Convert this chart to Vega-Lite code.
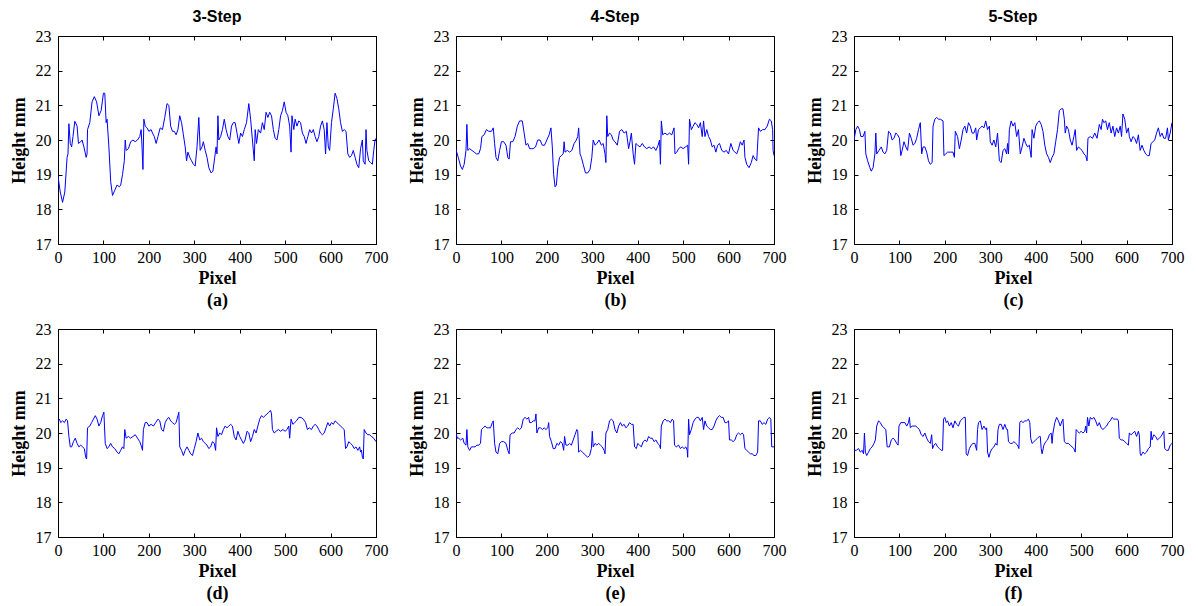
{
"$schema":"https://vega.github.io/schema/vega-lite/v6.json",
"padding":{"left":9,"top":8,"right":5,"bottom":5},
"config":{"view":{"stroke":"black","strokeWidth":1},
"axis":{"domain":false,"grid":false,"tickColor":"black","tickSize":-4,"labelFlush":false,"labelOverlap":false,"labelFont":"Liberation Serif","labelFontSize":16,"labelColor":"black","titleFont":"Liberation Serif","titleFontSize":18,"titleFontWeight":"bold","titleColor":"black"},
"axisX":{"labelPadding":9},
"axisY":{"labelPadding":11,"titlePadding":7},
"title":{"font":"Liberation Sans","fontSize":16,"fontWeight":"bold","color":"black","offset":3},
"concat":{"spacing":18}},
"datasets":{
"a":[{"x":0,"y":18.95},{"x":5,"y":18.5},{"x":10,"y":18.2},{"x":15,"y":18.5},{"x":20,"y":19.5},{"x":22,"y":19.6},{"x":24,"y":20.47},{"x":27,"y":19.9},{"x":30,"y":19.8},{"x":33,"y":20.1},{"x":37,"y":20.54},{"x":42,"y":20.4},{"x":45,"y":19.9},{"x":50,"y":19.95},{"x":53,"y":20.0},{"x":57,"y":19.8},{"x":62,"y":19.5},{"x":64,"y":19.6},{"x":65,"y":20.3},{"x":70,"y":20.5},{"x":75,"y":21.1},{"x":80,"y":21.25},{"x":85,"y":21.1},{"x":90,"y":20.7},{"x":95,"y":20.85},{"x":100,"y":21.35},{"x":103,"y":21.35},{"x":106,"y":20.5},{"x":108,"y":20.6},{"x":112,"y":19.8},{"x":116,"y":18.8},{"x":120,"y":18.4},{"x":125,"y":18.55},{"x":130,"y":18.7},{"x":135,"y":18.65},{"x":138,"y":18.7},{"x":142,"y":19.0},{"x":146,"y":19.4},{"x":148,"y":20.0},{"x":150,"y":19.7},{"x":155,"y":19.75},{"x":160,"y":19.95},{"x":165,"y":20.0},{"x":170,"y":19.95},{"x":175,"y":20.0},{"x":180,"y":20.1},{"x":183,"y":20.3},{"x":185,"y":19.8},{"x":187,"y":19.15},{"x":189,"y":20.6},{"x":192,"y":20.4},{"x":196,"y":20.35},{"x":200,"y":20.25},{"x":205,"y":20.3},{"x":208,"y":20.2},{"x":212,"y":20.1},{"x":216,"y":19.9},{"x":220,"y":20.1},{"x":225,"y":20.35},{"x":230,"y":20.3},{"x":235,"y":20.65},{"x":240,"y":21.05},{"x":244,"y":21.0},{"x":248,"y":20.4},{"x":252,"y":20.25},{"x":256,"y":20.25},{"x":260,"y":20.15},{"x":264,"y":20.3},{"x":268,"y":20.7},{"x":272,"y":20.5},{"x":276,"y":20.15},{"x":280,"y":19.8},{"x":283,"y":19.4},{"x":286,"y":19.65},{"x":290,"y":19.5},{"x":294,"y":19.4},{"x":298,"y":19.3},{"x":302,"y":19.25},{"x":306,"y":19.8},{"x":310,"y":20.65},{"x":313,"y":19.7},{"x":317,"y":19.8},{"x":320,"y":19.95},{"x":324,"y":19.7},{"x":328,"y":19.5},{"x":332,"y":19.2},{"x":337,"y":19.05},{"x":341,"y":19.1},{"x":345,"y":19.5},{"x":348,"y":19.8},{"x":350,"y":19.6},{"x":352,"y":20.7},{"x":354,"y":20.0},{"x":358,"y":20.1},{"x":362,"y":20.3},{"x":366,"y":20.6},{"x":370,"y":20.3},{"x":374,"y":20.1},{"x":378,"y":20.0},{"x":382,"y":20.4},{"x":386,"y":20.5},{"x":390,"y":20.5},{"x":394,"y":20.2},{"x":398,"y":19.9},{"x":402,"y":20.2},{"x":406,"y":20.1},{"x":410,"y":20.3},{"x":415,"y":20.5},{"x":420,"y":21.05},{"x":424,"y":20.6},{"x":428,"y":20.0},{"x":432,"y":19.4},{"x":434,"y":20.3},{"x":437,"y":19.9},{"x":441,"y":20.3},{"x":446,"y":20.2},{"x":450,"y":20.5},{"x":454,"y":20.3},{"x":458,"y":20.8},{"x":462,"y":20.65},{"x":466,"y":20.8},{"x":470,"y":20.7},{"x":474,"y":20.3},{"x":478,"y":20.05},{"x":482,"y":20.0},{"x":486,"y":20.3},{"x":490,"y":20.7},{"x":494,"y":20.85},{"x":498,"y":21.1},{"x":502,"y":20.8},{"x":506,"y":20.7},{"x":510,"y":20.4},{"x":513,"y":19.65},{"x":515,"y":20.7},{"x":519,"y":20.3},{"x":522,"y":20.6},{"x":526,"y":20.4},{"x":530,"y":20.55},{"x":534,"y":20.5},{"x":538,"y":20.2},{"x":542,"y":20.1},{"x":546,"y":19.9},{"x":550,"y":20.1},{"x":554,"y":20.3},{"x":558,"y":20.2},{"x":562,"y":20.3},{"x":566,"y":20.1},{"x":570,"y":19.95},{"x":574,"y":20.1},{"x":578,"y":20.4},{"x":582,"y":20.55},{"x":586,"y":20.3},{"x":589,"y":19.6},{"x":592,"y":20.5},{"x":595,"y":19.8},{"x":598,"y":19.7},{"x":602,"y":20.5},{"x":606,"y":20.9},{"x":610,"y":21.35},{"x":614,"y":21.2},{"x":618,"y":20.9},{"x":622,"y":20.5},{"x":626,"y":20.25},{"x":630,"y":20.3},{"x":634,"y":20.25},{"x":638,"y":19.6},{"x":642,"y":19.5},{"x":646,"y":19.55},{"x":650,"y":19.7},{"x":654,"y":19.5},{"x":658,"y":19.3},{"x":662,"y":19.2},{"x":666,"y":19.75},{"x":670,"y":20.0},{"x":672,"y":19.4},{"x":676,"y":19.3},{"x":678,"y":20.3},{"x":680,"y":19.7},{"x":684,"y":19.4},{"x":688,"y":19.35},{"x":692,"y":19.3},{"x":695,"y":19.7},{"x":698,"y":20.0},{"x":700,"y":20.05}],
"b":[{"x":0,"y":19.72},{"x":5,"y":19.5},{"x":10,"y":19.25},{"x":14,"y":19.15},{"x":18,"y":19.3},{"x":22,"y":19.7},{"x":24,"y":20.45},{"x":26,"y":19.7},{"x":30,"y":19.75},{"x":35,"y":19.7},{"x":40,"y":19.65},{"x":45,"y":19.6},{"x":50,"y":19.6},{"x":54,"y":19.75},{"x":57,"y":20.1},{"x":62,"y":20.15},{"x":67,"y":20.3},{"x":72,"y":20.25},{"x":78,"y":20.25},{"x":82,"y":20.35},{"x":85,"y":19.9},{"x":88,"y":19.5},{"x":92,"y":19.4},{"x":96,"y":19.7},{"x":100,"y":19.95},{"x":105,"y":19.95},{"x":110,"y":19.85},{"x":114,"y":19.5},{"x":117,"y":19.45},{"x":120,"y":19.95},{"x":125,"y":19.95},{"x":130,"y":20.1},{"x":135,"y":20.4},{"x":140,"y":20.55},{"x":146,"y":20.55},{"x":150,"y":20.2},{"x":154,"y":19.85},{"x":158,"y":19.9},{"x":162,"y":19.75},{"x":166,"y":19.75},{"x":170,"y":19.75},{"x":175,"y":19.8},{"x":180,"y":20.0},{"x":185,"y":20.0},{"x":190,"y":19.85},{"x":195,"y":19.85},{"x":200,"y":20.0},{"x":205,"y":20.15},{"x":209,"y":20.35},{"x":212,"y":19.8},{"x":215,"y":19.0},{"x":218,"y":18.65},{"x":221,"y":18.7},{"x":224,"y":19.2},{"x":228,"y":19.5},{"x":232,"y":19.55},{"x":236,"y":19.6},{"x":238,"y":19.95},{"x":240,"y":19.65},{"x":245,"y":19.7},{"x":250,"y":19.65},{"x":255,"y":19.7},{"x":260,"y":19.9},{"x":265,"y":20.0},{"x":268,"y":20.1},{"x":270,"y":20.35},{"x":273,"y":19.6},{"x":276,"y":19.5},{"x":280,"y":19.3},{"x":285,"y":19.05},{"x":290,"y":19.05},{"x":295,"y":19.15},{"x":299,"y":19.5},{"x":302,"y":20.0},{"x":306,"y":19.85},{"x":310,"y":19.9},{"x":315,"y":20.0},{"x":320,"y":19.85},{"x":324,"y":19.9},{"x":328,"y":19.6},{"x":330,"y":19.35},{"x":332,"y":20.7},{"x":334,"y":20.1},{"x":338,"y":20.2},{"x":342,"y":20.15},{"x":346,"y":20.0},{"x":350,"y":19.95},{"x":355,"y":19.85},{"x":360,"y":20.25},{"x":365,"y":20.3},{"x":370,"y":20.2},{"x":375,"y":20.25},{"x":380,"y":19.75},{"x":383,"y":19.95},{"x":386,"y":20.2},{"x":390,"y":19.6},{"x":393,"y":19.3},{"x":396,"y":19.9},{"x":400,"y":19.85},{"x":405,"y":19.8},{"x":410,"y":19.9},{"x":415,"y":19.8},{"x":420,"y":19.75},{"x":425,"y":19.8},{"x":430,"y":19.75},{"x":435,"y":19.8},{"x":440,"y":19.7},{"x":445,"y":19.85},{"x":448,"y":20.0},{"x":450,"y":19.3},{"x":452,"y":20.55},{"x":455,"y":20.15},{"x":460,"y":20.2},{"x":465,"y":20.15},{"x":470,"y":20.2},{"x":475,"y":20.15},{"x":480,"y":20.35},{"x":482,"y":19.6},{"x":486,"y":19.65},{"x":490,"y":19.75},{"x":495,"y":19.8},{"x":500,"y":19.75},{"x":505,"y":19.8},{"x":510,"y":19.85},{"x":512,"y":19.3},{"x":514,"y":20.6},{"x":518,"y":20.3},{"x":522,"y":20.4},{"x":526,"y":20.5},{"x":530,"y":20.45},{"x":534,"y":20.35},{"x":538,"y":20.5},{"x":542,"y":20.1},{"x":545,"y":20.55},{"x":548,"y":20.1},{"x":552,"y":20.3},{"x":556,"y":20.1},{"x":560,"y":20.0},{"x":564,"y":19.8},{"x":568,"y":19.85},{"x":572,"y":19.65},{"x":576,"y":19.85},{"x":580,"y":19.9},{"x":585,"y":19.7},{"x":590,"y":19.65},{"x":595,"y":19.7},{"x":600,"y":19.6},{"x":605,"y":19.9},{"x":610,"y":19.7},{"x":614,"y":19.65},{"x":618,"y":19.6},{"x":622,"y":19.75},{"x":626,"y":19.95},{"x":630,"y":19.85},{"x":634,"y":20.0},{"x":636,"y":19.5},{"x":640,"y":19.3},{"x":645,"y":19.2},{"x":650,"y":19.35},{"x":654,"y":19.55},{"x":658,"y":19.45},{"x":662,"y":19.4},{"x":666,"y":20.35},{"x":670,"y":20.25},{"x":675,"y":20.3},{"x":680,"y":20.3},{"x":685,"y":20.4},{"x":690,"y":20.6},{"x":694,"y":20.55},{"x":697,"y":20.3},{"x":698,"y":19.7},{"x":700,"y":19.55}],
"c":[{"x":0,"y":20.0},{"x":4,"y":20.3},{"x":8,"y":20.4},{"x":12,"y":20.3},{"x":15,"y":20.1},{"x":20,"y":20.1},{"x":24,"y":20.25},{"x":26,"y":19.6},{"x":30,"y":19.4},{"x":35,"y":19.2},{"x":38,"y":19.1},{"x":42,"y":19.2},{"x":46,"y":19.6},{"x":48,"y":20.2},{"x":50,"y":19.6},{"x":55,"y":19.7},{"x":60,"y":19.8},{"x":64,"y":19.65},{"x":68,"y":19.6},{"x":72,"y":19.7},{"x":76,"y":20.25},{"x":80,"y":20.2},{"x":84,"y":20.0},{"x":88,"y":20.05},{"x":92,"y":20.2},{"x":96,"y":20.15},{"x":100,"y":20.05},{"x":103,"y":19.55},{"x":106,"y":19.7},{"x":110,"y":19.95},{"x":114,"y":19.8},{"x":118,"y":19.7},{"x":122,"y":20.2},{"x":126,"y":20.05},{"x":130,"y":19.85},{"x":134,"y":19.9},{"x":138,"y":20.05},{"x":142,"y":20.3},{"x":146,"y":20.5},{"x":149,"y":19.6},{"x":152,"y":19.8},{"x":156,"y":19.8},{"x":160,"y":19.65},{"x":164,"y":19.4},{"x":168,"y":19.3},{"x":172,"y":19.35},{"x":174,"y":20.4},{"x":178,"y":20.6},{"x":182,"y":20.65},{"x":186,"y":20.6},{"x":190,"y":20.6},{"x":196,"y":20.55},{"x":198,"y":19.55},{"x":202,"y":19.6},{"x":206,"y":19.65},{"x":212,"y":19.65},{"x":218,"y":19.65},{"x":221,"y":19.5},{"x":223,"y":20.25},{"x":228,"y":20.1},{"x":232,"y":19.75},{"x":236,"y":20.0},{"x":240,"y":20.3},{"x":244,"y":20.4},{"x":248,"y":20.2},{"x":252,"y":20.5},{"x":256,"y":20.4},{"x":260,"y":20.2},{"x":264,"y":20.2},{"x":268,"y":20.35},{"x":270,"y":20.0},{"x":274,"y":20.3},{"x":278,"y":20.35},{"x":282,"y":20.4},{"x":286,"y":20.35},{"x":290,"y":20.55},{"x":294,"y":20.3},{"x":298,"y":20.4},{"x":300,"y":19.95},{"x":304,"y":19.85},{"x":308,"y":20.0},{"x":312,"y":19.8},{"x":316,"y":20.2},{"x":320,"y":19.4},{"x":324,"y":19.35},{"x":328,"y":19.7},{"x":332,"y":19.75},{"x":336,"y":19.6},{"x":338,"y":19.9},{"x":340,"y":19.6},{"x":342,"y":20.3},{"x":346,"y":20.55},{"x":350,"y":20.4},{"x":354,"y":20.5},{"x":358,"y":20.1},{"x":362,"y":20.3},{"x":366,"y":19.6},{"x":370,"y":19.8},{"x":374,"y":20.05},{"x":378,"y":19.9},{"x":382,"y":19.8},{"x":386,"y":19.85},{"x":390,"y":19.5},{"x":392,"y":20.3},{"x":396,"y":20.05},{"x":400,"y":20.4},{"x":404,"y":20.5},{"x":408,"y":20.55},{"x":412,"y":20.45},{"x":416,"y":20.25},{"x":420,"y":19.85},{"x":424,"y":19.6},{"x":428,"y":19.5},{"x":432,"y":19.35},{"x":436,"y":19.5},{"x":440,"y":19.6},{"x":444,"y":19.95},{"x":448,"y":20.3},{"x":452,"y":20.85},{"x":456,"y":20.9},{"x":460,"y":20.9},{"x":463,"y":20.6},{"x":465,"y":20.2},{"x":468,"y":20.4},{"x":472,"y":20.3},{"x":476,"y":20.0},{"x":480,"y":19.85},{"x":484,"y":20.1},{"x":487,"y":20.3},{"x":490,"y":19.7},{"x":494,"y":19.8},{"x":498,"y":19.75},{"x":502,"y":19.7},{"x":506,"y":19.6},{"x":510,"y":19.55},{"x":513,"y":19.4},{"x":515,"y":20.05},{"x":520,"y":20.1},{"x":525,"y":20.05},{"x":530,"y":20.2},{"x":535,"y":20.05},{"x":540,"y":20.45},{"x":544,"y":20.3},{"x":547,"y":20.6},{"x":550,"y":20.5},{"x":554,"y":20.55},{"x":558,"y":20.3},{"x":562,"y":20.5},{"x":566,"y":20.2},{"x":570,"y":20.4},{"x":574,"y":20.1},{"x":578,"y":20.35},{"x":582,"y":20.2},{"x":586,"y":20.4},{"x":589,"y":20.1},{"x":592,"y":20.75},{"x":596,"y":20.6},{"x":600,"y":20.2},{"x":604,"y":20.35},{"x":606,"y":20.1},{"x":610,"y":19.95},{"x":614,"y":20.1},{"x":618,"y":20.05},{"x":622,"y":19.9},{"x":626,"y":20.15},{"x":630,"y":19.7},{"x":634,"y":19.85},{"x":638,"y":19.7},{"x":642,"y":19.6},{"x":646,"y":19.55},{"x":650,"y":19.55},{"x":654,"y":19.9},{"x":658,"y":19.95},{"x":662,"y":20.0},{"x":666,"y":20.2},{"x":670,"y":20.35},{"x":674,"y":20.1},{"x":678,"y":20.2},{"x":682,"y":20.05},{"x":686,"y":20.05},{"x":690,"y":20.35},{"x":692,"y":20.0},{"x":696,"y":20.2},{"x":700,"y":20.5}],
"d":[{"x":0,"y":20.35},{"x":3,"y":20.4},{"x":6,"y":20.3},{"x":10,"y":20.35},{"x":14,"y":20.3},{"x":18,"y":20.4},{"x":21,"y":20.35},{"x":24,"y":19.9},{"x":27,"y":19.6},{"x":30,"y":19.6},{"x":34,"y":19.75},{"x":38,"y":19.85},{"x":42,"y":19.7},{"x":46,"y":19.6},{"x":50,"y":19.65},{"x":54,"y":19.6},{"x":58,"y":19.55},{"x":61,"y":19.3},{"x":63,"y":19.25},{"x":65,"y":20.15},{"x":70,"y":20.2},{"x":74,"y":20.3},{"x":78,"y":20.4},{"x":82,"y":20.5},{"x":86,"y":20.4},{"x":90,"y":20.2},{"x":94,"y":20.3},{"x":98,"y":20.5},{"x":101,"y":20.6},{"x":104,"y":19.7},{"x":108,"y":19.55},{"x":112,"y":19.6},{"x":116,"y":19.7},{"x":120,"y":19.6},{"x":125,"y":19.55},{"x":130,"y":19.45},{"x":134,"y":19.4},{"x":138,"y":19.5},{"x":142,"y":19.6},{"x":145,"y":19.55},{"x":147,"y":20.1},{"x":150,"y":19.85},{"x":155,"y":19.9},{"x":160,"y":19.85},{"x":165,"y":19.9},{"x":170,"y":19.95},{"x":175,"y":19.85},{"x":180,"y":19.75},{"x":184,"y":19.6},{"x":186,"y":19.5},{"x":188,"y":20.1},{"x":192,"y":20.3},{"x":196,"y":20.3},{"x":200,"y":20.2},{"x":205,"y":20.25},{"x":210,"y":20.2},{"x":215,"y":20.3},{"x":220,"y":20.4},{"x":224,"y":20.35},{"x":228,"y":20.1},{"x":232,"y":20.05},{"x":236,"y":20.3},{"x":240,"y":20.4},{"x":244,"y":20.45},{"x":248,"y":20.35},{"x":252,"y":20.3},{"x":256,"y":20.25},{"x":260,"y":20.3},{"x":264,"y":20.5},{"x":266,"y":20.6},{"x":268,"y":19.6},{"x":272,"y":19.5},{"x":276,"y":19.35},{"x":280,"y":19.5},{"x":284,"y":19.6},{"x":288,"y":19.5},{"x":292,"y":19.4},{"x":296,"y":19.35},{"x":300,"y":19.55},{"x":304,"y":19.75},{"x":308,"y":20.0},{"x":312,"y":19.8},{"x":316,"y":19.85},{"x":320,"y":19.75},{"x":324,"y":19.7},{"x":328,"y":19.65},{"x":332,"y":19.55},{"x":336,"y":19.6},{"x":340,"y":19.75},{"x":344,"y":19.7},{"x":347,"y":19.5},{"x":349,"y":20.15},{"x":352,"y":19.9},{"x":356,"y":20.0},{"x":360,"y":19.95},{"x":364,"y":20.1},{"x":368,"y":20.2},{"x":372,"y":20.15},{"x":376,"y":20.2},{"x":380,"y":20.25},{"x":384,"y":20.2},{"x":388,"y":19.9},{"x":392,"y":19.8},{"x":396,"y":20.05},{"x":400,"y":19.9},{"x":404,"y":19.8},{"x":408,"y":19.7},{"x":412,"y":19.8},{"x":416,"y":20.05},{"x":420,"y":20.0},{"x":424,"y":19.75},{"x":428,"y":19.9},{"x":432,"y":20.1},{"x":436,"y":20.0},{"x":440,"y":20.2},{"x":444,"y":20.4},{"x":448,"y":20.5},{"x":452,"y":20.45},{"x":456,"y":20.5},{"x":460,"y":20.55},{"x":464,"y":20.6},{"x":468,"y":20.65},{"x":470,"y":20.55},{"x":472,"y":20.1},{"x":476,"y":20.0},{"x":480,"y":20.05},{"x":485,"y":20.1},{"x":490,"y":20.05},{"x":495,"y":20.1},{"x":500,"y":20.05},{"x":504,"y":20.1},{"x":508,"y":20.2},{"x":510,"y":19.85},{"x":513,"y":20.4},{"x":517,"y":20.25},{"x":521,"y":20.3},{"x":525,"y":20.35},{"x":530,"y":20.45},{"x":535,"y":20.45},{"x":540,"y":20.4},{"x":545,"y":20.3},{"x":549,"y":20.1},{"x":553,"y":20.15},{"x":558,"y":20.1},{"x":562,"y":20.2},{"x":566,"y":20.25},{"x":570,"y":20.2},{"x":574,"y":20.1},{"x":578,"y":20.0},{"x":582,"y":19.95},{"x":586,"y":20.0},{"x":590,"y":20.15},{"x":594,"y":20.3},{"x":598,"y":20.2},{"x":602,"y":20.3},{"x":606,"y":20.25},{"x":610,"y":20.35},{"x":614,"y":20.3},{"x":618,"y":20.25},{"x":622,"y":20.2},{"x":626,"y":20.15},{"x":630,"y":20.1},{"x":633,"y":19.55},{"x":636,"y":19.6},{"x":640,"y":19.75},{"x":644,"y":19.7},{"x":648,"y":19.65},{"x":652,"y":19.55},{"x":656,"y":19.6},{"x":660,"y":19.5},{"x":664,"y":19.6},{"x":666,"y":19.45},{"x":668,"y":19.5},{"x":670,"y":19.3},{"x":672,"y":19.25},{"x":674,"y":20.1},{"x":678,"y":20.0},{"x":682,"y":19.95},{"x":686,"y":19.95},{"x":690,"y":19.9},{"x":695,"y":19.85},{"x":700,"y":19.75}],
"e":[{"x":0,"y":20.0},{"x":3,"y":19.85},{"x":6,"y":19.85},{"x":10,"y":19.8},{"x":15,"y":19.85},{"x":18,"y":19.7},{"x":22,"y":19.65},{"x":24,"y":20.1},{"x":26,"y":19.6},{"x":30,"y":19.5},{"x":34,"y":19.6},{"x":38,"y":19.6},{"x":42,"y":19.6},{"x":46,"y":19.65},{"x":50,"y":19.65},{"x":54,"y":19.7},{"x":56,"y":20.1},{"x":60,"y":20.15},{"x":64,"y":20.2},{"x":68,"y":20.15},{"x":72,"y":20.15},{"x":76,"y":20.15},{"x":80,"y":20.3},{"x":82,"y":20.35},{"x":85,"y":19.7},{"x":88,"y":19.45},{"x":92,"y":19.4},{"x":96,"y":19.7},{"x":100,"y":19.75},{"x":105,"y":19.75},{"x":110,"y":19.7},{"x":114,"y":19.5},{"x":117,"y":19.4},{"x":119,"y":19.95},{"x":124,"y":20.0},{"x":128,"y":20.0},{"x":132,"y":20.1},{"x":136,"y":20.15},{"x":140,"y":20.1},{"x":144,"y":20.15},{"x":148,"y":20.4},{"x":152,"y":20.45},{"x":156,"y":20.4},{"x":160,"y":20.45},{"x":162,"y":20.3},{"x":166,"y":20.3},{"x":170,"y":20.35},{"x":174,"y":20.35},{"x":176,"y":20.55},{"x":178,"y":20.0},{"x":182,"y":20.15},{"x":186,"y":20.15},{"x":190,"y":20.1},{"x":194,"y":20.15},{"x":198,"y":20.1},{"x":202,"y":20.15},{"x":204,"y":20.3},{"x":206,"y":19.9},{"x":210,"y":19.75},{"x":214,"y":19.55},{"x":218,"y":19.55},{"x":222,"y":19.7},{"x":226,"y":19.65},{"x":230,"y":19.75},{"x":234,"y":19.7},{"x":237,"y":19.5},{"x":239,"y":19.9},{"x":242,"y":19.65},{"x":246,"y":19.65},{"x":250,"y":19.7},{"x":254,"y":19.65},{"x":258,"y":19.8},{"x":262,"y":19.95},{"x":266,"y":20.1},{"x":268,"y":20.05},{"x":270,"y":19.45},{"x":274,"y":19.5},{"x":278,"y":19.45},{"x":282,"y":19.4},{"x":286,"y":19.35},{"x":290,"y":19.3},{"x":294,"y":19.35},{"x":298,"y":19.55},{"x":300,"y":20.05},{"x":302,"y":19.6},{"x":306,"y":19.7},{"x":310,"y":19.65},{"x":314,"y":19.7},{"x":318,"y":19.65},{"x":322,"y":19.6},{"x":326,"y":19.5},{"x":328,"y":19.4},{"x":330,"y":20.0},{"x":334,"y":20.1},{"x":338,"y":20.35},{"x":342,"y":20.4},{"x":346,"y":20.35},{"x":350,"y":20.1},{"x":354,"y":20.0},{"x":358,"y":20.2},{"x":362,"y":20.3},{"x":366,"y":20.2},{"x":370,"y":20.25},{"x":374,"y":20.15},{"x":378,"y":20.2},{"x":382,"y":20.3},{"x":386,"y":20.25},{"x":390,"y":20.25},{"x":393,"y":19.6},{"x":397,"y":19.55},{"x":400,"y":19.7},{"x":404,"y":19.65},{"x":408,"y":19.6},{"x":412,"y":19.75},{"x":416,"y":19.8},{"x":420,"y":19.75},{"x":424,"y":19.9},{"x":428,"y":19.85},{"x":432,"y":19.85},{"x":436,"y":19.75},{"x":440,"y":19.8},{"x":444,"y":19.7},{"x":448,"y":19.65},{"x":450,"y":19.55},{"x":452,"y":20.2},{"x":456,"y":20.35},{"x":460,"y":20.4},{"x":464,"y":20.35},{"x":468,"y":20.35},{"x":472,"y":20.3},{"x":476,"y":20.4},{"x":479,"y":20.35},{"x":481,"y":19.65},{"x":485,"y":19.6},{"x":490,"y":19.65},{"x":494,"y":19.55},{"x":498,"y":19.6},{"x":502,"y":19.55},{"x":506,"y":19.6},{"x":509,"y":19.5},{"x":510,"y":19.3},{"x":512,"y":20.4},{"x":514,"y":19.95},{"x":518,"y":20.1},{"x":522,"y":20.3},{"x":526,"y":20.4},{"x":530,"y":20.45},{"x":534,"y":20.45},{"x":538,"y":20.35},{"x":542,"y":20.45},{"x":545,"y":20.1},{"x":548,"y":20.35},{"x":552,"y":20.2},{"x":556,"y":20.15},{"x":560,"y":20.1},{"x":564,"y":20.1},{"x":568,"y":20.2},{"x":572,"y":20.35},{"x":576,"y":20.45},{"x":580,"y":20.5},{"x":584,"y":20.45},{"x":588,"y":20.45},{"x":592,"y":20.3},{"x":596,"y":20.3},{"x":600,"y":20.35},{"x":602,"y":19.8},{"x":606,"y":19.8},{"x":610,"y":19.75},{"x":614,"y":19.8},{"x":618,"y":19.95},{"x":622,"y":20.0},{"x":626,"y":19.95},{"x":630,"y":20.0},{"x":633,"y":19.95},{"x":636,"y":19.55},{"x":640,"y":19.5},{"x":644,"y":19.45},{"x":648,"y":19.4},{"x":652,"y":19.4},{"x":656,"y":19.35},{"x":660,"y":19.35},{"x":664,"y":19.45},{"x":666,"y":20.35},{"x":670,"y":20.35},{"x":674,"y":20.25},{"x":678,"y":20.3},{"x":682,"y":20.25},{"x":686,"y":20.4},{"x":690,"y":20.45},{"x":693,"y":20.4},{"x":695,"y":19.6},{"x":700,"y":19.6}],
"f":[{"x":0,"y":19.5},{"x":5,"y":19.5},{"x":10,"y":19.55},{"x":14,"y":19.45},{"x":18,"y":19.5},{"x":21,"y":19.4},{"x":23,"y":20.0},{"x":25,"y":19.45},{"x":28,"y":19.35},{"x":32,"y":19.45},{"x":36,"y":19.55},{"x":40,"y":19.6},{"x":44,"y":19.7},{"x":47,"y":19.8},{"x":50,"y":20.2},{"x":54,"y":20.35},{"x":58,"y":20.3},{"x":62,"y":20.2},{"x":66,"y":20.15},{"x":70,"y":20.1},{"x":73,"y":19.6},{"x":78,"y":19.6},{"x":82,"y":19.8},{"x":86,"y":19.85},{"x":90,"y":19.8},{"x":94,"y":19.7},{"x":97,"y":19.65},{"x":99,"y":20.2},{"x":103,"y":20.3},{"x":108,"y":20.3},{"x":112,"y":20.3},{"x":116,"y":20.2},{"x":120,"y":20.3},{"x":122,"y":20.45},{"x":124,"y":20.15},{"x":128,"y":20.2},{"x":132,"y":20.2},{"x":136,"y":20.2},{"x":140,"y":20.15},{"x":144,"y":20.1},{"x":148,"y":19.95},{"x":152,"y":19.9},{"x":156,"y":20.0},{"x":160,"y":19.85},{"x":164,"y":19.75},{"x":168,"y":19.7},{"x":171,"y":19.95},{"x":173,"y":19.55},{"x":176,"y":19.65},{"x":180,"y":19.7},{"x":184,"y":19.6},{"x":188,"y":19.55},{"x":192,"y":19.5},{"x":195,"y":19.5},{"x":197,"y":20.4},{"x":200,"y":20.45},{"x":203,"y":20.3},{"x":206,"y":20.35},{"x":210,"y":20.2},{"x":214,"y":20.3},{"x":218,"y":20.15},{"x":222,"y":20.35},{"x":226,"y":20.25},{"x":230,"y":20.2},{"x":234,"y":20.35},{"x":238,"y":20.4},{"x":242,"y":20.45},{"x":245,"y":20.45},{"x":247,"y":19.4},{"x":250,"y":19.35},{"x":254,"y":19.55},{"x":258,"y":19.65},{"x":262,"y":19.7},{"x":266,"y":19.7},{"x":270,"y":19.5},{"x":272,"y":20.1},{"x":274,"y":20.3},{"x":278,"y":20.35},{"x":282,"y":20.1},{"x":286,"y":20.2},{"x":290,"y":20.1},{"x":292,"y":20.15},{"x":294,"y":19.45},{"x":297,"y":19.3},{"x":300,"y":19.45},{"x":304,"y":19.55},{"x":308,"y":19.6},{"x":312,"y":19.7},{"x":315,"y":19.65},{"x":317,"y":20.1},{"x":320,"y":20.25},{"x":324,"y":20.25},{"x":328,"y":20.1},{"x":332,"y":20.25},{"x":336,"y":20.1},{"x":338,"y":20.1},{"x":340,"y":19.75},{"x":344,"y":19.7},{"x":348,"y":19.7},{"x":352,"y":19.75},{"x":356,"y":19.7},{"x":360,"y":19.65},{"x":363,"y":19.55},{"x":365,"y":20.3},{"x":368,"y":20.35},{"x":372,"y":20.3},{"x":376,"y":20.35},{"x":380,"y":20.35},{"x":384,"y":20.4},{"x":387,"y":20.3},{"x":389,"y":19.85},{"x":392,"y":19.7},{"x":396,"y":19.75},{"x":400,"y":19.8},{"x":404,"y":19.85},{"x":408,"y":19.9},{"x":410,"y":19.9},{"x":412,"y":19.55},{"x":414,"y":19.4},{"x":418,"y":19.65},{"x":422,"y":19.75},{"x":426,"y":19.8},{"x":430,"y":19.95},{"x":434,"y":20.0},{"x":436,"y":19.7},{"x":438,"y":20.0},{"x":442,"y":20.3},{"x":446,"y":20.45},{"x":450,"y":20.35},{"x":454,"y":20.2},{"x":458,"y":20.35},{"x":460,"y":20.4},{"x":463,"y":19.75},{"x":467,"y":19.7},{"x":472,"y":19.7},{"x":476,"y":19.65},{"x":480,"y":19.6},{"x":484,"y":19.55},{"x":487,"y":19.45},{"x":489,"y":20.1},{"x":492,"y":20.05},{"x":496,"y":20.0},{"x":500,"y":20.05},{"x":504,"y":20.0},{"x":508,"y":20.05},{"x":510,"y":20.2},{"x":512,"y":20.0},{"x":514,"y":20.45},{"x":517,"y":20.2},{"x":520,"y":20.45},{"x":524,"y":20.4},{"x":528,"y":20.45},{"x":532,"y":20.35},{"x":536,"y":20.2},{"x":540,"y":20.3},{"x":544,"y":20.15},{"x":548,"y":20.1},{"x":552,"y":20.15},{"x":556,"y":20.2},{"x":560,"y":20.3},{"x":564,"y":20.35},{"x":568,"y":20.45},{"x":572,"y":20.4},{"x":576,"y":20.4},{"x":580,"y":20.4},{"x":582,"y":20.35},{"x":584,"y":19.85},{"x":588,"y":19.8},{"x":592,"y":19.8},{"x":596,"y":19.75},{"x":600,"y":19.7},{"x":604,"y":19.65},{"x":606,"y":20.0},{"x":610,"y":19.95},{"x":614,"y":20.0},{"x":618,"y":20.05},{"x":622,"y":19.9},{"x":626,"y":20.05},{"x":628,"y":19.95},{"x":630,"y":19.4},{"x":632,"y":19.35},{"x":636,"y":19.45},{"x":640,"y":19.4},{"x":644,"y":19.45},{"x":648,"y":19.55},{"x":652,"y":19.6},{"x":654,"y":20.05},{"x":656,"y":19.8},{"x":660,"y":19.95},{"x":664,"y":19.9},{"x":668,"y":19.8},{"x":672,"y":19.85},{"x":676,"y":19.9},{"x":680,"y":20.0},{"x":682,"y":20.05},{"x":684,"y":19.55},{"x":688,"y":19.5},{"x":692,"y":19.5},{"x":696,"y":19.65},{"x":700,"y":19.7}]
},
"vconcat":[
{"spacing":18,"hconcat":[
{"title":"3-Step","width":318,"height":208,"data":{"name":"a"},"resolve":{"axis":{"x":"independent","y":"independent"}},"layer":[
{"mark":{"type":"line","color":"#0000ff","strokeWidth":1,"clip":true},"encoding":{"x":{"field":"x","type":"quantitative","scale":{"domain":[0,700],"nice":false},"axis":{"values":[0,100,200,300,400,500,600,700],"title":["Pixel","(a)"],"titleLineHeight":22}},"y":{"field":"y","type":"quantitative","scale":{"domain":[17,23],"nice":false},"axis":{"values":[17,18,19,20,21,22,23],"title":"Height mm"}}}},
{"mark":{"type":"line","opacity":0},"encoding":{"x":{"field":"x","type":"quantitative","scale":{"domain":[0,700],"nice":false},"axis":{"orient":"top","values":[0,100,200,300,400,500,600,700],"labels":false,"title":null,"labelPadding":0}},"y":{"field":"y","type":"quantitative","scale":{"domain":[17,23],"nice":false},"axis":{"orient":"right","values":[17,18,19,20,21,22,23],"labels":false,"title":null,"labelPadding":0}}}}]},
{"title":"4-Step","width":318,"height":208,"data":{"name":"b"},"resolve":{"axis":{"x":"independent","y":"independent"}},"layer":[
{"mark":{"type":"line","color":"#0000ff","strokeWidth":1,"clip":true},"encoding":{"x":{"field":"x","type":"quantitative","scale":{"domain":[0,700],"nice":false},"axis":{"values":[0,100,200,300,400,500,600,700],"title":["Pixel","(b)"],"titleLineHeight":22}},"y":{"field":"y","type":"quantitative","scale":{"domain":[17,23],"nice":false},"axis":{"values":[17,18,19,20,21,22,23],"title":"Height mm"}}}},
{"mark":{"type":"line","opacity":0},"encoding":{"x":{"field":"x","type":"quantitative","scale":{"domain":[0,700],"nice":false},"axis":{"orient":"top","values":[0,100,200,300,400,500,600,700],"labels":false,"title":null,"labelPadding":0}},"y":{"field":"y","type":"quantitative","scale":{"domain":[17,23],"nice":false},"axis":{"orient":"right","values":[17,18,19,20,21,22,23],"labels":false,"title":null,"labelPadding":0}}}}]},
{"title":"5-Step","width":318,"height":208,"data":{"name":"c"},"resolve":{"axis":{"x":"independent","y":"independent"}},"layer":[
{"mark":{"type":"line","color":"#0000ff","strokeWidth":1,"clip":true},"encoding":{"x":{"field":"x","type":"quantitative","scale":{"domain":[0,700],"nice":false},"axis":{"values":[0,100,200,300,400,500,600,700],"title":["Pixel","(c)"],"titleLineHeight":22}},"y":{"field":"y","type":"quantitative","scale":{"domain":[17,23],"nice":false},"axis":{"values":[17,18,19,20,21,22,23],"title":"Height mm"}}}},
{"mark":{"type":"line","opacity":0},"encoding":{"x":{"field":"x","type":"quantitative","scale":{"domain":[0,700],"nice":false},"axis":{"orient":"top","values":[0,100,200,300,400,500,600,700],"labels":false,"title":null,"labelPadding":0}},"y":{"field":"y","type":"quantitative","scale":{"domain":[17,23],"nice":false},"axis":{"orient":"right","values":[17,18,19,20,21,22,23],"labels":false,"title":null,"labelPadding":0}}}}]}
]},
{"spacing":18,"hconcat":[
{"width":318,"height":208,"data":{"name":"d"},"resolve":{"axis":{"x":"independent","y":"independent"}},"layer":[
{"mark":{"type":"line","color":"#0000ff","strokeWidth":1,"clip":true},"encoding":{"x":{"field":"x","type":"quantitative","scale":{"domain":[0,700],"nice":false},"axis":{"values":[0,100,200,300,400,500,600,700],"title":["Pixel","(d)"],"titleLineHeight":22}},"y":{"field":"y","type":"quantitative","scale":{"domain":[17,23],"nice":false},"axis":{"values":[17,18,19,20,21,22,23],"title":"Height mm"}}}},
{"mark":{"type":"line","opacity":0},"encoding":{"x":{"field":"x","type":"quantitative","scale":{"domain":[0,700],"nice":false},"axis":{"orient":"top","values":[0,100,200,300,400,500,600,700],"labels":false,"title":null,"labelPadding":0}},"y":{"field":"y","type":"quantitative","scale":{"domain":[17,23],"nice":false},"axis":{"orient":"right","values":[17,18,19,20,21,22,23],"labels":false,"title":null,"labelPadding":0}}}}]},
{"width":318,"height":208,"data":{"name":"e"},"resolve":{"axis":{"x":"independent","y":"independent"}},"layer":[
{"mark":{"type":"line","color":"#0000ff","strokeWidth":1,"clip":true},"encoding":{"x":{"field":"x","type":"quantitative","scale":{"domain":[0,700],"nice":false},"axis":{"values":[0,100,200,300,400,500,600,700],"title":["Pixel","(e)"],"titleLineHeight":22}},"y":{"field":"y","type":"quantitative","scale":{"domain":[17,23],"nice":false},"axis":{"values":[17,18,19,20,21,22,23],"title":"Height mm"}}}},
{"mark":{"type":"line","opacity":0},"encoding":{"x":{"field":"x","type":"quantitative","scale":{"domain":[0,700],"nice":false},"axis":{"orient":"top","values":[0,100,200,300,400,500,600,700],"labels":false,"title":null,"labelPadding":0}},"y":{"field":"y","type":"quantitative","scale":{"domain":[17,23],"nice":false},"axis":{"orient":"right","values":[17,18,19,20,21,22,23],"labels":false,"title":null,"labelPadding":0}}}}]},
{"width":318,"height":208,"data":{"name":"f"},"resolve":{"axis":{"x":"independent","y":"independent"}},"layer":[
{"mark":{"type":"line","color":"#0000ff","strokeWidth":1,"clip":true},"encoding":{"x":{"field":"x","type":"quantitative","scale":{"domain":[0,700],"nice":false},"axis":{"values":[0,100,200,300,400,500,600,700],"title":["Pixel","(f)"],"titleLineHeight":22}},"y":{"field":"y","type":"quantitative","scale":{"domain":[17,23],"nice":false},"axis":{"values":[17,18,19,20,21,22,23],"title":"Height mm"}}}},
{"mark":{"type":"line","opacity":0},"encoding":{"x":{"field":"x","type":"quantitative","scale":{"domain":[0,700],"nice":false},"axis":{"orient":"top","values":[0,100,200,300,400,500,600,700],"labels":false,"title":null,"labelPadding":0}},"y":{"field":"y","type":"quantitative","scale":{"domain":[17,23],"nice":false},"axis":{"orient":"right","values":[17,18,19,20,21,22,23],"labels":false,"title":null,"labelPadding":0}}}}]}
]}
],
"spacing":10
}
